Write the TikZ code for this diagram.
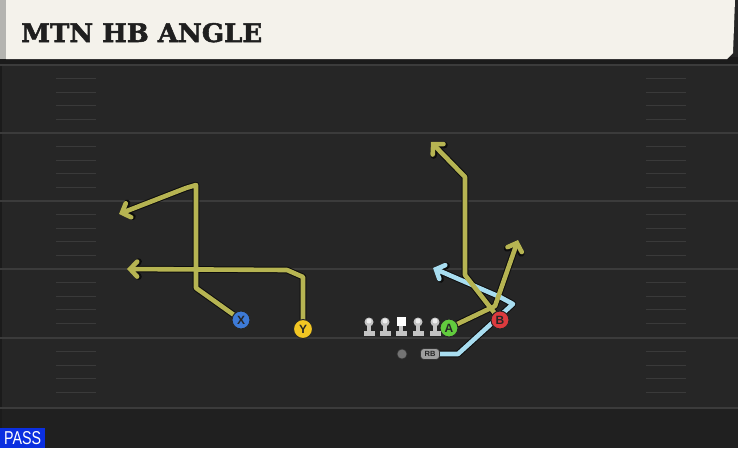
\documentclass[tikz,border=0pt]{standalone}
\usepackage{fontspec}
\usetikzlibrary{arrows.meta}
\definecolor{hdr}{HTML}{F4F2EB}
\definecolor{hdredge}{HTML}{B4B4B0}
\definecolor{field}{HTML}{262626}
\definecolor{fieldlow}{HTML}{202020}
\definecolor{strip}{HTML}{1B1B1B}
\definecolor{yard}{HTML}{3B3B3B}
\definecolor{hash}{HTML}{3A3A3A}
\definecolor{routey}{HTML}{B6B452}
\definecolor{routeb}{HTML}{A8DDF0}
\definecolor{pX}{HTML}{3D7AD6}
\definecolor{pY}{HTML}{F2C623}
\definecolor{pA}{HTML}{62CC3E}
\definecolor{pB}{HTML}{DC3B3E}
\definecolor{olgray}{HTML}{C4C4C4}
\definecolor{passblue}{HTML}{0B2FE0}
\newfontfamily\titlefont{DejaVu Serif}[BoldFeatures={FakeBold=2}]
\newfontfamily\lblfont{Liberation Sans}
\pgfdeclarelayer{bgl}
\pgfdeclarelayer{routel}
\pgfsetlayers{bgl,routel,main}
\tikzset{
  player/.style={circle,draw=black!85,line width=1pt,minimum size=18pt,inner sep=0pt,
    font=\lblfont\bfseries\fontsize{12}{12}\selectfont,text=black!85},
  routeout/.style={line width=6.6pt,draw=black!95,line join=round,
    -{Straight Barb[length=7pt,width=15pt,line cap=round]}},
  routein/.style={line width=4.6pt,line join=round,
    -{Straight Barb[length=7pt,width=15pt,line cap=round]}},
  yardline/.style={draw=yard,line width=1.8pt},
  hashmark/.style={draw=hash,line width=1.3pt},
  lineman/.pic={
    \fill[olgray] (-5.5,4) rectangle (5.5,9);
    \fill[olgray] (-2,-3) rectangle (2,5);
    \fill[olgray] (0,-5) circle (4.5);
    \fill[white!70!olgray] (0,-6) circle (2.5);
  },
  centerman/.pic={
    \fill[olgray] (-5.5,4) rectangle (5.5,9);
    \fill[olgray] (-2,-3) rectangle (2,5);
    \fill[white] (-4.5,-10) rectangle (4.5,-1);
  }
}
\begin{document}
\begin{tikzpicture}[x=1pt,y=-1pt]
\useasboundingbox (0,0) rectangle (738,448);
\begin{pgfonlayer}{bgl}
  \fill[field] (0,0) rectangle (738,448);
  \fill[fieldlow] (0,408) rectangle (738,448);
  \fill[strip] (0,57) rectangle (738,65);
  \fill[black!30!field] (0,65) rectangle (2,448);
  \fill[hdredge] (0,0) rectangle (6,59);
  \fill[hdr] (6,0) -- (735,0) -- (733,53) -- (727,59) -- (6,59) -- cycle;
  \foreach \yy in {65,133,201,269,338,408}
    \draw[yardline] (0,\yy) -- (738,\yy);
  \foreach \base in {65,133,201,269,338}
    \foreach \k in {1,2,3,4} {
      \draw[hashmark] (56,\base+13.6*\k) -- (96,\base+13.6*\k);
      \draw[hashmark] (646,\base+13.6*\k) -- (686,\base+13.6*\k);
    }
\end{pgfonlayer}

\node[anchor=base west,inner sep=0pt,text=black!88] (title) at (21,42)
  {\resizebox{241pt}{19pt}{\titlefont\bfseries MTN HB ANGLE}};

\node[fill=passblue,anchor=south west,minimum width=45pt,minimum height=20pt,inner sep=0pt] (pass) at (0,448) {};
\node[inner sep=0pt,text=white] (passtxt) at (pass.center) {\resizebox{37pt}{13pt}{\lblfont PASS}};

\node[player,fill=pX] (X) at (241,320) {X};
\node[player,fill=pY,minimum size=19pt] (Y) at (303,329) {Y};
\node[player,fill=pA] (A) at (449,328) {A};
\node[player,fill=pB] (B) at (500,320) {B};
\node[circle,fill=black!55,draw=black!80,line width=0.6pt,minimum size=10pt,inner sep=0pt] (QB) at (402,354) {};
\node[rounded corners=3.5pt,fill=black!38,draw=black!80,line width=0.7pt,minimum width=19pt,minimum height=11pt,inner sep=0pt,
  font=\lblfont\bfseries\fontsize{7.5}{7.5}\selectfont,text=black!85] (RB) at (430,354) {RB};
\pic (LT) at (369,327) {lineman};
\pic (LG) at (385,327) {lineman};
\pic (C) at (401,327) {centerman};
\pic (RG) at (418,327) {lineman};
\pic (RT) at (435,327) {lineman};

\coordinate (x1) at (196,288);
\coordinate (x2) at (196,185);
\coordinate (x3) at (186,188);
\coordinate (x4) at (119,214);
\coordinate (y1) at (303,277);
\coordinate (y2) at (287,270);
\coordinate (y3) at (127,269);
\coordinate (a1) at (495,306);
\coordinate (a2) at (518,240);
\coordinate (b1) at (465,275);
\coordinate (b2) at (465,177);
\coordinate (b3) at (431,142);
\coordinate (r1) at (458,354);
\coordinate (r2) at (513,304);
\coordinate (r3) at (500,297);
\coordinate (r4) at (433,268);

\begin{pgfonlayer}{routel}
  \draw[routeout] (RB.center) -- (r1) -- (r2) -- (r3) -- (r4);
  \draw[routeout] (X.center) -- (x1) -- (x2) -- (x3) -- (x4);
  \draw[routeout] (Y.center) -- (y1) -- (y2) -- (y3);
  \draw[routeout] (A.center) -- (a1) -- (a2);
  \draw[routeout] (B.center) -- (b1) -- (b2) -- (b3);
  \draw[routein,routeb] (RB.center) -- (r1) -- (r2) -- (r3) -- (r4);
  \draw[routein,routey] (X.center) -- (x1) -- (x2) -- (x3) -- (x4);
  \draw[routein,routey] (Y.center) -- (y1) -- (y2) -- (y3);
  \draw[routein,routey] (A.center) -- (a1) -- (a2);
  \draw[routein,routey] (B.center) -- (b1) -- (b2) -- (b3);
\end{pgfonlayer}
\end{tikzpicture}
\end{document}
